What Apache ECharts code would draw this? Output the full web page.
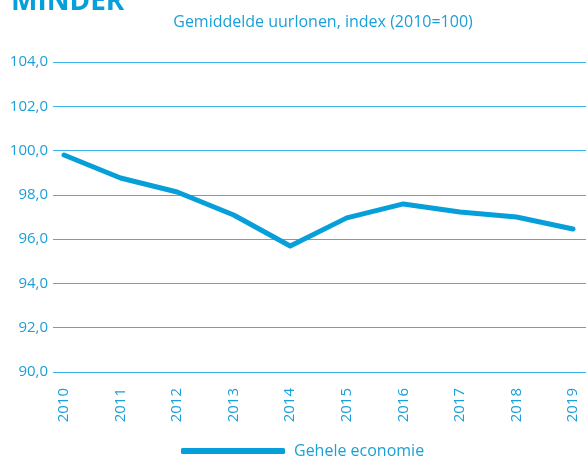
<!DOCTYPE html>
<html>
<head>
<meta charset="utf-8">
<script src="https://cdn.jsdelivr.net/npm/echarts@6/dist/echarts.min.js"></script>
<style>
  html, body { margin: 0; padding: 0; background: #fff; }
  #chart { width: 586px; height: 459px; }
</style>
</head>
<body>
<div id="chart"></div>
<script>
const years = ['2010', '2011', '2012', '2013', '2014', '2015', '2016', '2017', '2018', '2019'];
const geheleEconomie = [99.8, 98.76, 98.13, 97.09, 95.69, 96.96, 97.59, 97.23, 97.0, 96.46];
const yMin = 90;
const yMax = 104;
const yStep = 2;

const blue = '#069fd9';
const textBlue = '#1b9fd9';
const font = '"Open Sans", "DejaVu Sans", sans-serif';

const myChart = echarts.init(document.getElementById('chart'));
myChart.setOption({
    animation: false,
    title: [
        {
            text: 'MINDER',
            left: 6,
            top: -17,
            textStyle: { color: blue, fontSize: 28, fontWeight: 'bold', fontFamily: font }
        },
        {
            text: 'Gemiddelde uurlonen, index (2010=100)',
            left: 318,
            top: 9,
            textAlign: 'center',
            textStyle: { color: textBlue, fontSize: 16, fontWeight: 'normal', fontFamily: font }
        }
    ],
    legend: {
        left: 176,
        top: 438,
        itemWidth: 104,
        itemHeight: 6,
        itemGap: 10,
        icon: 'roundRect',
        textStyle: { color: textBlue, fontSize: 16, fontFamily: font, padding: [0, 0, 0, 4] },
        data: ['Gehele economie']
    },
    grid: [
        // data grid
        { left: 64, right: 13, top: 62, bottom: 87 },
        // wide grid for the horizontal lines and labels
        { left: 53, right: 0, top: 62, bottom: 87 }
    ],
    xAxis: [
        {
            gridIndex: 0,
            type: 'category',
            boundaryGap: false,
            data: years,
            axisLine: { show: false },
            axisTick: { show: false },
            axisLabel: {
                rotate: 90,
                margin: 16,
                color: textBlue,
                fontSize: 15,
                fontFamily: font
            }
        },
        {
            gridIndex: 1,
            type: 'value',
            show: false
        }
    ],
    yAxis: [
        {
            gridIndex: 0,
            type: 'value',
            min: yMin,
            max: yMax,
            interval: yStep,
            show: false
        },
        {
            gridIndex: 1,
            type: 'value',
            min: yMin,
            max: yMax,
            interval: yStep,
            axisLine: { show: false },
            axisTick: { show: false },
            splitLine: { show: true, lineStyle: { color: '#38b3e7', width: 1.2 } },
            axisLabel: {
                margin: 5,
                color: textBlue,
                fontSize: 15,
                fontFamily: font,
                formatter: (v) => v.toFixed(1).replace('.', ',')
            }
        }
    ],
    series: [
        {
            name: 'Gehele economie',
            type: 'line',
            xAxisIndex: 0,
            yAxisIndex: 0,
            data: geheleEconomie,
            symbol: 'none',
            lineStyle: { color: blue, width: 5, cap: 'round', join: 'round' },
            itemStyle: { color: blue },
            z: 5
        }
    ]
});
</script>
</body>
</html>
